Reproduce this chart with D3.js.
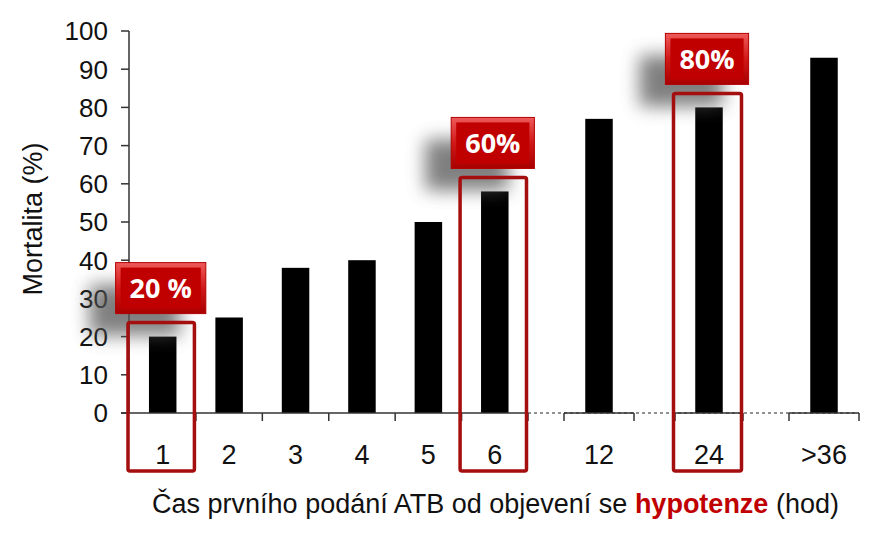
<!DOCTYPE html>
<html>
<head>
<meta charset="utf-8">
<script src="https://cdn.jsdelivr.net/npm/d3@7"></script>
<style>
  body { margin: 0; background: #fff; }
</style>
</head>
<body>
<div id="wrapper"></div>
<script>
const categories = ["1", "2", "3", "4", "5", "6", "12", "24", ">36"]
const mortality = [20, 25, 38, 40, 50, 58, 77, 80, 93]
const yTicks = [0, 10, 20, 30, 40, 50, 60, 70, 80, 90, 100]
// broken x axis: groups of categories drawn on separate axis pieces
const segments = [["1", "2", "3", "4", "5", "6"], ["12"], ["24"], [">36"]]
const highlightCats = ["1", "6", "24"]
const highlightLabels = ["20 %", "60%", "80%"]
const yTitle = "Mortalita (%)"

function drawChart() {
  const dms = { width: 882, height: 541 }
  const segRanges = [[129.5, 528], [564, 634], [675, 743], [789, 859]]
  const barWidth = 27.5
  const red = "#c00000"
  const boxRed = "#a50e0e"
  const axisColor = "#333"

  const data = categories.map((c, i) => ({ cat: c, value: mortality[i] }))

  const svg = d3.select("#wrapper")
    .append("svg")
    .attr("width", dms.width)
    .attr("height", dms.height)

  const defs = svg.append("defs")
  defs.append("filter")
    .attr("id", "shadowBlur")
    .attr("x", "-60%").attr("y", "-60%")
    .attr("width", "220%").attr("height", "220%")
    .append("feGaussianBlur")
    .attr("stdDeviation", 9)

  const grad = defs.append("linearGradient")
    .attr("id", "bevel")
    .attr("x1", 0).attr("y1", 0).attr("x2", 0).attr("y2", 1)
  grad.append("stop").attr("offset", "0%").attr("stop-color", "#ee5a5a")
  grad.append("stop").attr("offset", "50%").attr("stop-color", "#d01818")
  grad.append("stop").attr("offset", "100%").attr("stop-color", "#a80000")

  const yScale = d3.scaleLinear()
    .domain([0, 100])
    .range([413, 31])

  // one band scale per axis piece
  const segScales = segments.map((seg, i) => d3.scaleBand()
    .domain(seg)
    .range(segRanges[i])
    .paddingInner(0)
    .paddingOuter(0))
  const scaleFor = c => segScales.find(s => s.domain().includes(c))
  const xCenter = c => {
    const s = scaleFor(c)
    return s(c) + s.bandwidth() / 2
  }

  const y0 = yScale(0)

  // dashed baseline through the breaks
  svg.append("line")
    .attr("x1", segRanges[0][1])
    .attr("x2", segRanges[segRanges.length - 1][1])
    .attr("y1", y0).attr("y2", y0)
    .attr("stroke", "#222")
    .attr("stroke-width", 1)
    .attr("stroke-dasharray", "3,3")

  // bars
  svg.append("g")
    .selectAll("rect")
    .data(data)
    .join("rect")
    .attr("x", d => xCenter(d.cat) - barWidth / 2)
    .attr("width", barWidth)
    .attr("y", d => yScale(d.value))
    .attr("height", d => y0 - yScale(d.value))
    .attr("fill", "#000")

  // x axis pieces
  segScales.forEach((s, i) => {
    const g = svg.append("g")
    const r = s.range()
    g.append("line")
      .attr("x1", i === 0 ? 121 : r[0])
      .attr("x2", r[1])
      .attr("y1", y0).attr("y2", y0)
      .attr("stroke", axisColor)
      .attr("stroke-width", 1.5)
    const edges = s.domain().map(c => s(c)).concat([r[1]])
    g.selectAll("line.tick")
      .data(i === 0 ? edges.slice(1) : edges)
      .join("line")
      .attr("class", "tick")
      .attr("x1", d => d).attr("x2", d => d)
      .attr("y1", y0).attr("y2", y0 + 8)
      .attr("stroke", axisColor)
      .attr("stroke-width", 1.5)
  })

  svg.append("g")
    .selectAll("text")
    .data(categories)
    .join("text")
    .attr("x", d => xCenter(d))
    .attr("y", 464)
    .attr("text-anchor", "middle")
    .style("font-family", "Liberation Sans, Arial, sans-serif")
    .style("font-size", "27px")
    .attr("fill", "#111")
    .text(d => d)

  // y axis
  const yAxis = svg.append("g")
  yAxis.append("line")
    .attr("x1", 129).attr("x2", 129)
    .attr("y1", yScale(100)).attr("y2", y0)
    .attr("stroke", axisColor)
    .attr("stroke-width", 1.5)
  yAxis.selectAll("line.tick")
    .data(yTicks)
    .join("line")
    .attr("class", "tick")
    .attr("x1", 121).attr("x2", 129)
    .attr("y1", d => yScale(d)).attr("y2", d => yScale(d))
    .attr("stroke", axisColor)
    .attr("stroke-width", 1.5)
  yAxis.selectAll("text")
    .data(yTicks)
    .join("text")
    .attr("x", 108)
    .attr("y", d => yScale(d))
    .attr("dy", "0.36em")
    .attr("text-anchor", "end")
    .style("font-family", "Liberation Sans, Arial, sans-serif")
    .style("font-size", "26px")
    .attr("fill", "#111")
    .text(d => d)

  svg.append("text")
    .attr("transform", `translate(42, 219) rotate(-90)`)
    .attr("text-anchor", "middle")
    .style("font-family", "Liberation Sans, Arial, sans-serif")
    .style("font-size", "27px")
    .attr("fill", "#111")
    .text(yTitle)

  // x title
  const xTitle = svg.append("text")
    .attr("x", 495.5)
    .attr("y", 513)
    .attr("text-anchor", "middle")
    .style("font-family", "Liberation Sans, Arial, sans-serif")
    .style("font-size", "27px")
    .attr("fill", "#111")
  xTitle.append("tspan").text("Čas prvního podání ATB od objevení se ")
  xTitle.append("tspan").attr("fill", red).style("font-weight", "bold").text("hypotenze")
  xTitle.append("tspan").text(" (hod)")

  // highlighted categories: box + callout
  highlightCats.forEach((c, i) => {
    const s = scaleFor(c)
    const v = mortality[categories.indexOf(c)]
    const bx = s(c) - 1.5
    const bw = s.bandwidth()
    const by = yScale(v) - 14
    const g = svg.append("g")

    const lbl = g.append("text")
      .attr("text-anchor", "middle")
      .style("font-family", "Open Sans, sans-serif")
      .style("font-weight", "bold")
      .style("font-size", "27px")
      .attr("fill", "#fff")
      .text(highlightLabels[i])
    const tw = lbl.node().getComputedTextLength()
    const lw = tw + 28
    const lh = 51
    const cx = xCenter(c) - 2
    const ly = by - 9 - lh

    g.insert("rect", "text")
      .attr("x", cx - lw / 2 - 26)
      .attr("y", ly + 22)
      .attr("width", lw)
      .attr("height", lh)
      .attr("fill", "#555")
      .attr("opacity", 0.75)
      .attr("filter", "url(#shadowBlur)")
    g.insert("rect", "text")
      .attr("x", cx - lw / 2)
      .attr("y", ly)
      .attr("width", lw)
      .attr("height", lh)
      .attr("fill", "url(#bevel)")
      .attr("stroke", "#b30000")
      .attr("stroke-width", 1)
    g.insert("rect", "text")
      .attr("x", cx - lw / 2 + 5)
      .attr("y", ly + 5)
      .attr("width", lw - 10)
      .attr("height", lh - 10)
      .attr("fill", red)
    lbl.attr("x", cx).attr("y", ly + lh / 2).attr("dy", "0.36em")

    g.append("rect")
      .attr("x", bx)
      .attr("y", by)
      .attr("width", bw)
      .attr("height", 471 - by)
      .attr("rx", 2)
      .attr("fill", "none")
      .attr("stroke", boxRed)
      .attr("stroke-width", 3.5)
  })
}

drawChart()
</script>
</body>
</html>
